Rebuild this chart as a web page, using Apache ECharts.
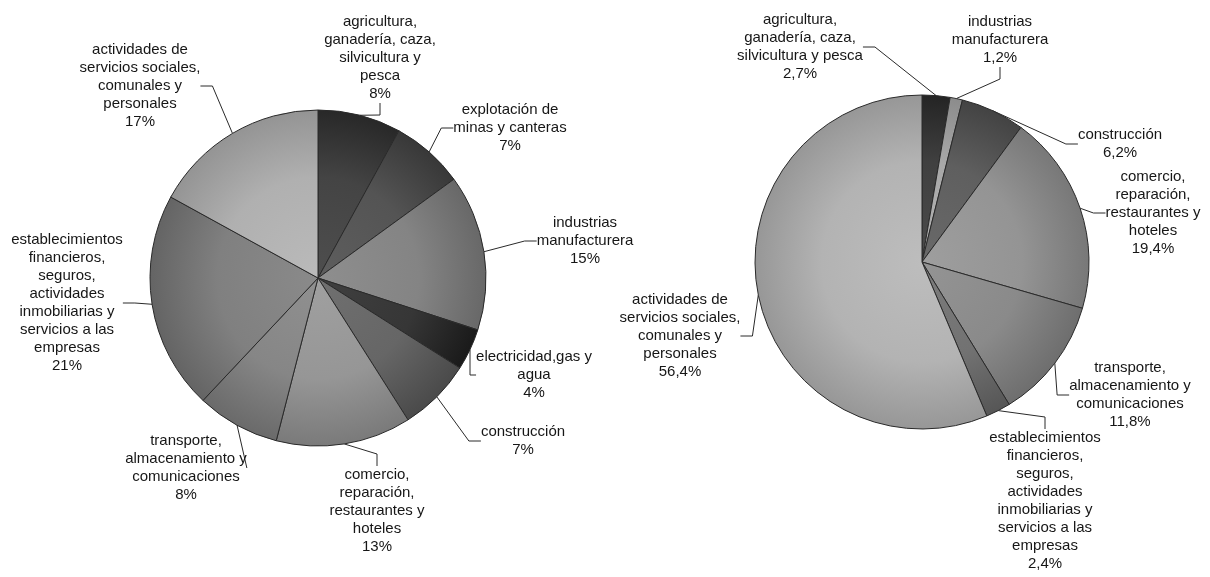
<!DOCTYPE html>
<html>
<head>
<meta charset="utf-8">
<script src="https://cdn.jsdelivr.net/npm/echarts@6/dist/echarts.min.js"></script>
<style>html,body{margin:0;padding:0;background:#fff}#c{width:1210px;height:577px}</style>
</head>
<body>
<div id="c"></div>
<script>
// ---- data ----
const leftNames = [
  'agricultura,\nganadería, caza,\nsilvicultura y\npesca',
  'explotación de\nminas y canteras',
  'industrias\nmanufacturera',
  'electricidad,gas y\nagua',
  'construcción',
  'comercio,\nreparación,\nrestaurantes y\nhoteles',
  'transporte,\nalmacenamiento y\ncomunicaciones',
  'establecimientos\nfinancieros,\nseguros,\nactividades\ninmobiliarias y\nservicios a las\nempresas',
  'actividades de\nservicios sociales,\ncomunales y\npersonales'
];
const leftValues = [8, 7, 15, 4, 7, 13, 8, 21, 17];

const rightNames = [
  'agricultura,\nganadería, caza,\nsilvicultura y pesca',
  'industrias\nmanufacturera',
  'construcción',
  'comercio,\nreparación,\nrestaurantes y\nhoteles',
  'transporte,\nalmacenamiento y\ncomunicaciones',
  'establecimientos\nfinancieros,\nseguros,\nactividades\ninmobiliarias y\nservicios a las\nempresas',
  'actividades de\nservicios sociales,\ncomunales y\npersonales'
];
const rightValues = [2.7, 1.2, 6.2, 19.4, 11.8, 2.4, 56.4];

// ---- styling / layout ----
const leftColors = ['#3c3c3c', '#4c4c4c', '#7c7c7c', '#2e2e2e', '#5e5e5e', '#8e8e8e', '#7e7e7e', '#787878', '#a8a8a8'];
const rightColors = ['#383838', '#a0a0a0', '#575757', '#8c8c8c', '#828282', '#6a6a6a', '#ababab'];
const leftLabelPos = [[380, 58], [510, 128], [585, 241], [534, 375], [523, 441], [377, 511], [186, 468], [67, 303], [140, 86]];
const rightLabelPos = [[800, 47], [1000, 40], [1120, 144], [1153, 213], [1130, 395], [1045, 501], [680, 336]];

const LC = [318, 278], LR = 168;
const RC = [922, 262], RR = 167;

function shade(hex, amt) {
  const n = parseInt(hex.slice(1), 16);
  let r = (n >> 16) & 255, g = (n >> 8) & 255, b = n & 255;
  const f = v => Math.max(0, Math.min(255, Math.round(v + amt)));
  return 'rgb(' + f(r) + ',' + f(g) + ',' + f(b) + ')';
}
function grad(hex, c, r) {
  return {
    type: 'radial', x: c[0], y: c[1], r: r, global: true,
    colorStops: [
      { offset: 0, color: shade(hex, 18) },
      { offset: 0.6, color: shade(hex, 8) },
      { offset: 1, color: shade(hex, -20) }
    ]
  };
}
function fmt(v) { return String(v).replace('.', ','); }

function makeSeries(names, values, colors, center, radius, pos) {
  return {
    type: 'pie',
    center: center,
    radius: radius,
    startAngle: 90,
    clockwise: true,
    animation: false,
    silent: true,
    data: names.map((n, i) => ({
      name: n, value: values[i],
      itemStyle: { color: grad(colors[i], center, radius) }
    })),
    itemStyle: { borderColor: '#2a2a2a', borderWidth: 1 },
    label: {
      show: true,
      position: 'outside',
      overflow: 'none',
      formatter: p => p.name + '\n' + fmt(p.value) + '%',
      fontFamily: 'Liberation Sans, Arial, sans-serif',
      fontSize: 15,
      lineHeight: 18,
      color: '#161616',
      align: 'center'
    },
    labelLine: {
      show: true, length: 12, length2: 12,
      lineStyle: { color: '#2a2a2a', width: 1 }
    },
    labelLayout: function (params) {
      const p = pos[params.dataIndex];
      return { x: p[0], y: p[1], align: 'center', verticalAlign: 'middle' };
    }
  };
}

const chart = echarts.init(document.getElementById('c'), null, { renderer: 'canvas' });
chart.setOption({
  backgroundColor: '#ffffff',
  series: [
    makeSeries(leftNames, leftValues, leftColors, LC, LR, leftLabelPos),
    makeSeries(rightNames, rightValues, rightColors, RC, RR, rightLabelPos)
  ]
});
</script>
</body>
</html>
